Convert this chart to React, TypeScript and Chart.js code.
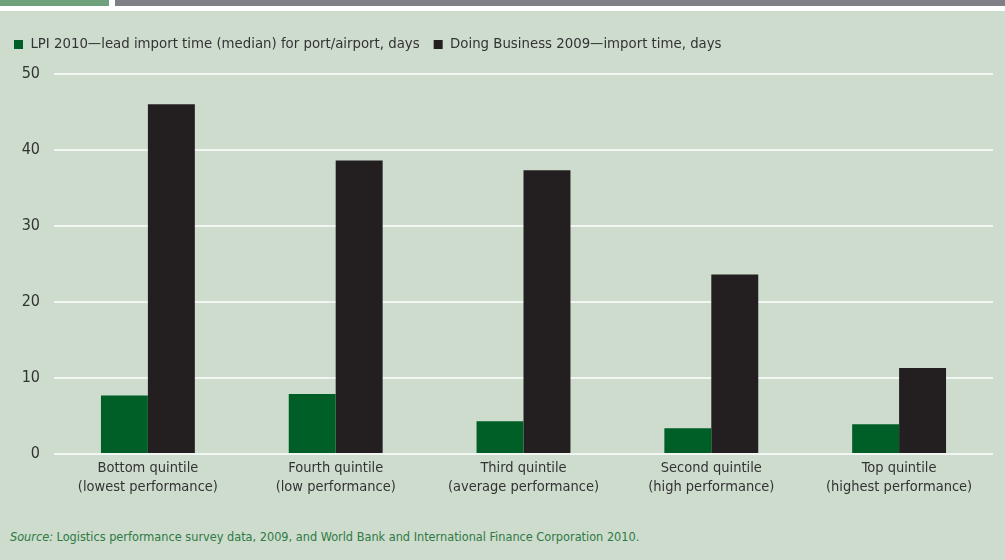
import React, { useEffect, useRef } from "react";
import { Chart, registerables } from "chart.js";

Chart.register(...registerables);

const categories: string[][] = [
  ["Bottom quintile", "(lowest performance)"],
  ["Fourth quintile", "(low performance)"],
  ["Third quintile", "(average performance)"],
  ["Second quintile", "(high performance)"],
  ["Top quintile", "(highest performance)"],
];
const lpiLabel = "LPI 2010\u2014lead import time (median) for port/airport, days";
const dbLabel = "Doing Business 2009\u2014import time, days";
const lpiValues = [7.7, 7.9, 4.3, 3.4, 3.9];
const dbValues = [46, 38.6, 37.3, 23.6, 11.3];
const yTicks = [0, 10, 20, 30, 40, 50];

const FONT = "'Liberation Sans Narrow', 'DejaVu Sans Condensed', 'Liberation Sans', sans-serif";

const legendGap = {
  id: "legendGap",
  beforeInit(chart: any) {
    const lg = chart.legend;
    if (!lg) return;
    const fit = lg.fit;
    lg.fit = function () {
      fit.call(lg);
      lg.height += 12;
    };
  },
};

export default function App() {
  const ref = useRef<HTMLCanvasElement | null>(null);
  useEffect(() => {
    document.body.style.margin = "0";
    const c = ref.current;
    if (!c) return;
    const chart = new Chart(c, {
      type: "bar",
      data: {
        labels: categories,
        datasets: [
          { label: lpiLabel, data: lpiValues, backgroundColor: "#005f27", borderWidth: 0 },
          { label: dbLabel, data: dbValues, backgroundColor: "#231f20", borderWidth: 0 },
        ],
      },
      plugins: [legendGap],
      options: {
        animation: false,
        responsive: false,
        maintainAspectRatio: false,
        layout: { padding: { top: 23, right: 12, left: 0, bottom: 0 } },
        datasets: { bar: { barPercentage: 1, categoryPercentage: 0.5 } },
        plugins: {
          tooltip: { enabled: false },
          legend: {
            position: "top",
            align: "start",
            labels: {
              boxWidth: 9,
              boxHeight: 9,
              padding: 14,
              color: "#333333",
              font: { family: FONT, size: 14.8 },
            },
          },
        },
        scales: {
          x: {
            grid: { display: false, drawTicks: false },
            border: { display: false },
            ticks: { color: "#333333", font: { family: FONT, size: 14.5, lineHeight: 1.31 }, padding: 5, maxRotation: 0, autoSkip: false },
            afterFit: (s: any) => { s.height = 50; },
          },
          y: {
            min: 0,
            max: 50,
            afterBuildTicks: (s: any) => { s.ticks = yTicks.map((v) => ({ value: v })); },
            grid: { color: "#f2f6f2", lineWidth: 2, drawTicks: false },
            border: { display: false },
            ticks: { color: "#333333", font: { family: FONT, size: 16 }, padding: 14 },
            afterFit: (s: any) => { s.width = 54; },
          },
        },
      },
    });
    return () => chart.destroy();
  }, []);

  return (
    <div style={{ position: "relative", width: 1005, height: 560, background: "#cddccd", overflow: "hidden" }}>
      <div style={{ position: "absolute", left: 0, top: 0, width: 1005, height: 11, background: "#ffffff" }} />
      <div style={{ position: "absolute", left: 0, top: 0, width: 109, height: 6, background: "#6fa27c" }} />
      <div style={{ position: "absolute", left: 115, top: 0, width: 890, height: 6, background: "#7f7f86" }} />
      <canvas ref={ref} width={1005} height={504} style={{ position: "absolute", left: 0, top: 0, width: 1005, height: 504 }} />
      <div style={{ position: "absolute", left: 10, top: 529, fontFamily: FONT, fontSize: 12.6, color: "#2f7a45", whiteSpace: "nowrap" }}>
        <i>Source:</i> Logistics performance survey data, 2009, and World Bank and International Finance Corporation 2010.
      </div>
    </div>
  );
}
